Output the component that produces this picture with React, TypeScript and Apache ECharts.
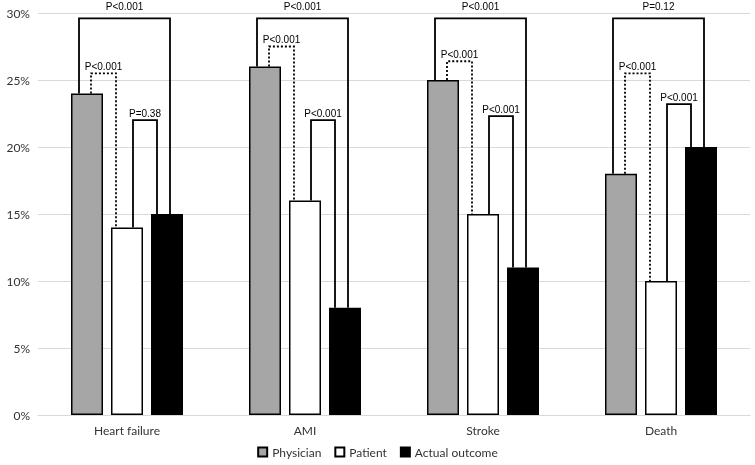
import React, { useEffect, useRef } from "react";
import * as echarts from "echarts";

const categories = ["Heart failure", "AMI", "Stroke", "Death"];
const physician = [24, 26, 25, 18];
const patient = [14, 16, 15, 10];
const actual = [15, 8, 11, 20];
const yTicks = [0, 5, 10, 15, 20, 25, 30];

// bracket tops (in %) and p-value labels
const topPhysActual = [29.6, 29.6, 29.6, 29.6];
const labelPhysActual = ["P<0.001", "P<0.001", "P<0.001", "P=0.12"];
const topPhysPatient = [25.5, 27.5, 26.4, 25.5];
const labelPhysPatient = ["P<0.001", "P<0.001", "P<0.001", "P<0.001"];
const topPatActual = [22, 22, 22.3, 23.2];
const labelPatActual = ["P=0.38", "P<0.001", "P<0.001", "P<0.001"];

const BAR_W = 32;
const STEP = 40;

function bracketSeries(
  tops: number[],
  leftVals: number[],
  rightVals: number[],
  labels: string[],
  lb: number,
  rb: number,
  lo: number,
  ro: number,
  dashed: boolean,
  gap: number
) {
  return {
    type: "custom",
    z: 5,
    silent: true,
    clip: false,
    encode: { x: 0, y: 1 },
    data: categories.map((_, i) => [i, tops[i], leftVals[i], rightVals[i]]),
    renderItem: (params: any, api: any) => {
      const cat = api.value(0);
      const top = api.value(1);
      const lv = api.value(2);
      const rv = api.value(3);
      const p = api.coord([cat, top]);
      const cx = p[0];
      const yTop = p[1];
      const yL = api.coord([cat, lv])[1];
      const yR = api.coord([cat, rv])[1];
      const xL = cx + (lb - 1) * STEP + lo;
      const xR = cx + (rb - 1) * STEP + ro;
      return {
        type: "group",
        children: [
          {
            type: "polyline",
            shape: { points: [[xL, yL], [xL, yTop], [xR, yTop], [xR, yR]] },
            style: {
              stroke: "#000",
              lineWidth: 1.8,
              fill: null,
              lineDash: dashed ? [2, 2] : null,
            },
          },
          {
            type: "text",
            x: (xL + xR) / 2,
            y: yTop - gap,
            style: {
              text: labels[params.dataIndex],
              align: "center",
              verticalAlign: "bottom",
              fontSize: 10,
              fontFamily: "Liberation Sans",
              fill: "#000",
            },
          },
        ],
      };
    },
  };
}

export default function App() {
  const ref = useRef<HTMLDivElement>(null);
  useEffect(() => {
    if (!ref.current) return;
    const chart = echarts.init(ref.current, null, { renderer: "svg" });
    const barBase = {
      type: "bar",
      barWidth: BAR_W,
      barGap: "25%",
    };
    chart.setOption({
      animation: false,
      grid: { left: 38, right: 5, top: 13, bottom: 50 },
      legend: {
        bottom: 2,
        left: "center",
        icon: "rect",
        itemWidth: 9,
        itemHeight: 9,
        itemGap: 13,
        textStyle: { fontFamily: "Lato", fontSize: 12, color: "#333" },
        data: ["Physician", "Patient", "Actual outcome"],
      },
      xAxis: {
        type: "category",
        data: categories,
        axisLine: { lineStyle: { color: "#d9d9d9", width: 1 } },
        axisTick: { show: false },
        axisLabel: { fontFamily: "Lato", fontSize: 12, color: "#333", margin: 9 },
      },
      yAxis: {
        type: "value",
        min: 0,
        max: 30,
        interval: 5,
        axisLine: { show: false },
        axisTick: { show: false },
        splitLine: { lineStyle: { color: "#d9d9d9", width: 1 } },
        axisLabel: {
          fontFamily: "Lato",
          fontSize: 12,
          color: "#333",
          margin: 8,
          formatter: (v: number) => (yTicks.includes(v) ? v + "%" : ""),
        },
      },
      series: [
        {
          ...barBase,
          name: "Physician",
          data: physician,
          itemStyle: { color: "#a6a6a6", borderColor: "#000", borderWidth: 1.5 },
        },
        {
          ...barBase,
          name: "Patient",
          data: patient,
          itemStyle: { color: "#fff", borderColor: "#000", borderWidth: 1.5 },
        },
        {
          ...barBase,
          name: "Actual outcome",
          data: actual,
          itemStyle: { color: "#000", borderColor: "#000", borderWidth: 1.5 },
        },
        bracketSeries(topPhysActual, physician, actual, labelPhysActual, 0, 2, -8, 3, false, 7),
        bracketSeries(topPhysPatient, physician, patient, labelPhysPatient, 0, 1, 4, -11, true, 2),
        bracketSeries(topPatActual, patient, actual, labelPatActual, 1, 2, 6, -10, false, 2),
      ],
    });
    return () => chart.dispose();
  }, []);
  return (
    <div
      ref={ref}
      style={{ position: "fixed", top: 0, left: 0, width: 755, height: 465 }}
    />
  );
}
